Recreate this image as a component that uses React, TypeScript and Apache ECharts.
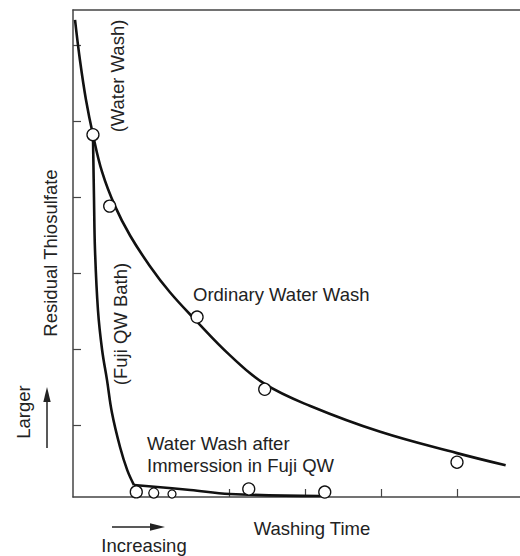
import React, { useEffect, useRef } from "react";
import * as echarts from "echarts";

// Axis units: one tick step = 1 unit
const xTicks = [1, 2, 3, 4, 5];
const yTicks = [1, 2, 3, 4, 5, 6];

// Ordinary Water Wash curve
const ordinaryCurveX = [-0.026, 0.039, 0.118, 0.21, 0.33, 0.5, 0.7, 0.96, 1.22, 1.55, 2.01, 2.47, 3.07, 3.99, 5.0, 5.64];
const ordinaryCurveY = [6.33, 5.8, 5.28, 4.82, 4.33, 3.88, 3.49, 3.09, 2.75, 2.39, 1.92, 1.54, 1.25, 0.91, 0.63, 0.47];
const ordinaryPointsX = [0.21, 0.43, 1.58, 2.47, 5.0];
const ordinaryPointsY = [4.82, 3.88, 2.42, 1.47, 0.51];

// Fuji QW bath: steep drop then water wash
const fujiDropX = [0.21, 0.224, 0.237, 0.276, 0.33, 0.395, 0.46, 0.566, 0.66, 0.75];
const fujiDropY = [4.82, 3.96, 3.3, 2.51, 1.99, 1.59, 1.16, 0.71, 0.41, 0.21];
const fujiFlatX = [0.75, 1.49, 2.01, 3.2];
const fujiFlatY = [0.21, 0.145, 0.092, 0.066];
const fujiPointsX = [0.78, 1.01, 1.25, 2.26, 3.26];
const fujiPointsY = [0.12, 0.105, 0.092, 0.158, 0.118];
const fujiPointSizes = [12, 10, 8, 12, 12];

const zip = (xs: number[], ys: number[]) => xs.map((x, i) => [x, ys[i]]);

const FONT = "'Liberation Sans', Arial, Helvetica, sans-serif";
const TXT = "#222";
const AXIS = "#444";

export default function App() {
  const ref = useRef<HTMLDivElement>(null);
  useEffect(() => {
    if (!ref.current) return;
    const chart = echarts.init(ref.current, null, { renderer: "svg" });
    const txt = (text: string, x: number, y: number, extra: any = {}) => ({
      type: "text",
      x,
      y,
      rotation: extra.rotation || 0,
      style: {
        text,
        fill: TXT,
        font: `18.5px ${FONT}`,
        align: extra.align || "center",
        verticalAlign: "middle",
      },
    });
    const axisBase = {
      type: "value",
      axisLine: { show: true, onZero: false, lineStyle: { color: AXIS, width: 1.5 } },
      axisLabel: { show: false },
      splitLine: { show: false },
    };
    chart.setOption({
      animation: false,
      grid: { left: 73, top: 10, right: 0, bottom: 59 },
      xAxis: [
        {
          ...axisBase,
          min: -4 / 76,
          max: 443 / 76,
          axisTick: { show: true, inside: true, length: 8, customValues: xTicks, lineStyle: { color: AXIS, width: 1.2 } },
        },
        {
          ...axisBase,
          position: "top",
          min: -4 / 76,
          max: 443 / 76,
          axisTick: { show: false },
        },
      ],
      yAxis: {
        ...axisBase,
        min: 4 / 76,
        max: 491 / 76,
        axisTick: { show: true, inside: true, length: 8, customValues: yTicks, lineStyle: { color: AXIS, width: 1.2 } },
      },
      series: [
        {
          type: "line",
          name: "Ordinary Water Wash",
          data: zip(ordinaryCurveX, ordinaryCurveY),
          smooth: 0.4,
          showSymbol: false,
          lineStyle: { color: "#111", width: 2.6 },
        },
        {
          type: "line",
          name: "Fuji QW Bath",
          data: zip(fujiDropX, fujiDropY),
          smooth: 0.4,
          showSymbol: false,
          lineStyle: { color: "#111", width: 2.6 },
        },
        {
          type: "line",
          name: "Water Wash after Fuji QW",
          data: zip(fujiFlatX, fujiFlatY),
          smooth: 0.4,
          showSymbol: false,
          lineStyle: { color: "#111", width: 2.6 },
        },
        {
          type: "scatter",
          data: zip(ordinaryPointsX, ordinaryPointsY),
          symbol: "circle",
          symbolSize: 12,
          itemStyle: { color: "#fff", borderColor: "#111", borderWidth: 1.3, opacity: 1 },
          z: 5,
        },
        {
          type: "scatter",
          data: zip(fujiPointsX, fujiPointsY).map((d, i) => ({ value: d, symbolSize: fujiPointSizes[i] })),
          symbol: "circle",
          itemStyle: { color: "#fff", borderColor: "#111", borderWidth: 1.3, opacity: 1 },
          z: 5,
        },
      ],
      graphic: [
        txt("Residual Thiosulfate", 50, 253, { rotation: Math.PI / 2 }),
        txt("Larger", 23, 412, { rotation: Math.PI / 2 }),
        txt("(Water Wash)", 117, 76, { rotation: Math.PI / 2 }),
        txt("(Fuji QW Bath)", 120, 324, { rotation: Math.PI / 2 }),
        txt("Ordinary Water Wash", 193, 294, { align: "left" }),
        txt("Water Wash after", 147, 443, { align: "left" }),
        txt("Immerssion in Fuji QW", 147, 465, { align: "left" }),
        txt("Washing Time", 312, 528),
        txt("Increasing", 144, 545),
        {
          type: "line",
          shape: { x1: 47, y1: 448, x2: 47, y2: 400 },
          style: { stroke: "#222", lineWidth: 1.5 },
        },
        {
          type: "polygon",
          shape: { points: [[47, 387], [43.3, 402], [50.7, 402]] },
          style: { fill: "#222" },
        },
        {
          type: "line",
          shape: { x1: 112, y1: 527, x2: 152, y2: 527 },
          style: { stroke: "#222", lineWidth: 1.5 },
        },
        {
          type: "polygon",
          shape: { points: [[165, 527], [150, 523.3], [150, 530.7]] },
          style: { fill: "#222" },
        },
      ],
    });
    return () => chart.dispose();
  }, []);
  return (
    <div
      ref={ref}
      style={{ position: "fixed", left: 0, top: 0, width: 520, height: 556, background: "#fff" }}
    />
  );
}
